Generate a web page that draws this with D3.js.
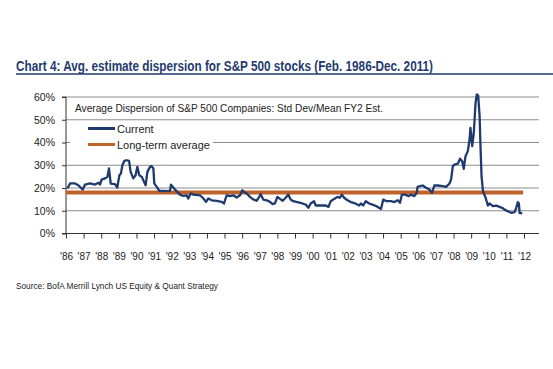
<!DOCTYPE html>
<html><head><meta charset="utf-8">
<script src="https://cdn.jsdelivr.net/npm/d3@7"></script>
<style>body{margin:0;background:#fff}svg{display:block}</style>
</head><body>
<script>
const chartTitle = "Chart 4: Avg. estimate dispersion for S&P 500 stocks (Feb. 1986-Dec. 2011)";
const legendTitle = "Average Dispersion of S&P 500 Companies: Std Dev/Mean FY2 Est.";
const seriesNames = ["Current", "Long-term average"];
const sourceText = "Source: BofA Merrill Lynch US Equity & Quant Strategy";
const yTicks = [0, 10, 20, 30, 40, 50, 60];
const xTickYears = d3.range(1986, 2013);
const longTermAvg = 18;
const years = [1986.08,1986.23,1986.51,1986.70,1986.95,1987.08,1987.36,1987.65,1987.84,1987.93,1988.02,1988.21,1988.35,1988.44,1988.54,1988.78,1988.91,1989.03,1989.12,1989.20,1989.31,1989.44,1989.58,1989.67,1989.82,1989.95,1990.05,1990.16,1990.30,1990.43,1990.52,1990.62,1990.77,1990.86,1990.96,1991.01,1991.15,1991.30,1991.52,1991.90,1991.96,1992.09,1992.19,1992.32,1992.47,1992.66,1992.85,1992.94,1993.08,1993.23,1993.61,1993.80,1993.95,1994.08,1994.27,1994.55,1994.84,1994.97,1995.12,1995.31,1995.50,1995.69,1995.88,1996.01,1996.10,1996.26,1996.44,1996.63,1996.82,1996.97,1997.05,1997.20,1997.39,1997.58,1997.73,1997.86,1998.00,1998.15,1998.30,1998.47,1998.62,1998.75,1998.90,1999.13,1999.42,1999.61,1999.76,1999.89,2000.08,2000.18,2000.46,2000.75,2000.90,2001.03,2001.22,2001.41,2001.54,2001.66,2001.79,2001.98,2002.17,2002.42,2002.64,2002.74,2002.87,2003.02,2003.21,2003.40,2003.63,2003.88,2004.01,2004.20,2004.45,2004.64,2004.83,2004.96,2005.07,2005.26,2005.45,2005.58,2005.77,2005.91,2005.96,2006.10,2006.25,2006.44,2006.63,2006.78,2006.91,2007.10,2007.39,2007.58,2007.77,2007.86,2007.96,2008.05,2008.24,2008.37,2008.49,2008.58,2008.68,2008.81,2008.91,2008.96,2009.06,2009.15,2009.25,2009.32,2009.40,2009.48,2009.53,2009.59,2009.67,2009.82,2009.95,2010.04,2010.23,2010.42,2010.61,2010.76,2010.90,2011.08,2011.27,2011.47,2011.56,2011.65,2011.71,2011.75,2011.90];
const current = [19.8,22.0,22.0,21.2,19.3,21.5,22.0,21.5,22.3,21.5,23.7,24.2,24.9,28.6,21.9,21.7,20.2,25.6,26.4,30.0,31.9,32.2,31.9,27.1,24.2,25.6,29.3,25.6,24.9,22.7,21.2,27.1,29.3,29.6,28.6,22.0,20.5,18.7,18.7,18.6,21.5,20.2,19.3,18.3,17.1,16.5,16.8,15.4,17.6,17.1,16.8,15.4,13.9,15.4,14.6,14.3,13.9,13.2,16.8,16.4,16.8,15.8,16.8,19.0,18.3,17.6,16.1,15.0,14.4,16.1,17.3,14.9,14.6,13.9,12.9,13.2,16.1,15.2,14.4,15.7,17.1,14.9,14.2,13.8,13.2,12.7,11.3,13.2,14.2,12.3,12.3,12.3,11.7,14.2,15.2,16.1,15.7,17.1,15.7,14.6,13.8,13.2,12.3,13.2,12.3,14.2,13.2,12.7,12.0,10.8,14.9,14.2,14.2,13.8,14.6,13.5,17.1,17.1,16.4,17.1,16.4,17.9,20.5,20.8,21.1,20.1,19.3,17.9,21.1,21.1,20.8,20.5,22.0,23.7,29.6,30.3,30.7,32.9,31.8,28.4,34.0,36.2,41.3,46.4,38.4,44.2,57.4,61.1,60.6,51.5,38.4,25.2,18.6,15.7,12.3,13.2,12.0,12.3,11.7,11.3,10.5,9.8,9.1,9.4,11.3,13.8,13.2,9.1,8.8];

const W = 553, H = 369;
const svg = d3.select("body").append("svg").attr("width", W).attr("height", H);
const navy = "#1f3a6e", orange = "#c0622b", grid = "#8c8c8c";

// title
svg.append("text").attr("x", 16).attr("y", 70.5).text(chartTitle)
  .attr("font-family", "'Liberation Sans Narrow','Arial Narrow',Arial,sans-serif")
  .attr("font-weight", "bold").attr("font-size", 14.5).attr("fill", navy)
  .attr("textLength", 417).attr("lengthAdjust", "spacingAndGlyphs");
svg.append("line").attr("x1", 16).attr("x2", 553).attr("y1", 74).attr("y2", 74)
  .attr("stroke", navy).attr("stroke-width", 1.5);

const x = d3.scaleLinear().domain([1986, 2012]).range([66, 524]);
const xEnd = x(2012.85);
const y = d3.scaleLinear().domain([0, 60]).range([233.5, 97]);

// gridlines
svg.append("g").selectAll("line").data(yTicks.filter(d => d > 0)).join("line")
  .attr("x1", x(1986)).attr("x2", xEnd).attr("y1", d => y(d)).attr("y2", d => y(d))
  .attr("stroke", grid).attr("stroke-width", 1);

// y axis
const yAxis = svg.append("g").attr("transform", `translate(${x(1986)},0)`)
  .call(d3.axisLeft(y).tickValues(yTicks).tickFormat(d => d + "%").tickSize(4).tickPadding(7));
yAxis.select(".domain").attr("stroke", "#333").attr("d", `M-4,${y(0)}H0V${y(60)}H-4`);
yAxis.selectAll("line").attr("stroke", "#333");
yAxis.selectAll("text").attr("font-family", "Arial, 'Liberation Sans', sans-serif").attr("font-size", 10.5).attr("fill", "#222");

// x axis
const xAxis = svg.append("g").attr("transform", `translate(0,${y(0)})`)
  .call(d3.axisBottom(x).tickValues(xTickYears).tickFormat(d => "'" + String(d).slice(2)).tickSize(5).tickPadding(14));
xAxis.select(".domain").attr("stroke", "#333").attr("d", `M${x(1986)},0H${xEnd}`);
xAxis.selectAll("line").attr("stroke", "#333");
xAxis.selectAll("text").attr("font-family", "Arial, 'Liberation Sans', sans-serif").attr("font-size", 10).attr("fill", "#222");

// legend background
svg.append("rect").attr("x", 70).attr("y", 121).attr("width", 143).attr("height", 30).attr("fill", "#fff");

// long-term average
svg.append("line").attr("x1", x(1986)).attr("x2", x(2011.95)).attr("y1", y(longTermAvg)).attr("y2", y(longTermAvg))
  .attr("stroke", orange).attr("stroke-width", 4);

// current series
const pts = years.map((yr, i) => [yr, current[i]]);
svg.append("path").datum(pts)
  .attr("d", d3.line().x(d => x(d[0])).y(d => y(d[1])))
  .attr("fill", "none").attr("stroke", navy).attr("stroke-width", 2.3).attr("stroke-linejoin", "round");

// legend
const lf = "Arial, 'Liberation Sans', sans-serif";
svg.append("text").attr("x", 75).attr("y", 111.5).text(legendTitle)
  .attr("font-family", lf).attr("font-size", 11).attr("fill", "#222")
  .attr("textLength", 308).attr("lengthAdjust", "spacingAndGlyphs");
const leg = [{n: seriesNames[0], c: navy, w: 3, yy: 128.5}, {n: seriesNames[1], c: orange, w: 3, yy: 144.5}];
leg.forEach(l => {
  svg.append("line").attr("x1", 88).attr("x2", 115).attr("y1", l.yy).attr("y2", l.yy).attr("stroke", l.c).attr("stroke-width", l.w);
  svg.append("text").attr("x", 117).attr("y", l.yy + 4).text(l.n).attr("font-family", lf).attr("font-size", 11).attr("fill", "#222");
});

// source
svg.append("text").attr("x", 16).attr("y", 289).text(sourceText)
  .attr("font-family", lf).attr("font-size", 9).attr("fill", "#222")
  .attr("textLength", 202).attr("lengthAdjust", "spacingAndGlyphs");
</script>
</body></html>
